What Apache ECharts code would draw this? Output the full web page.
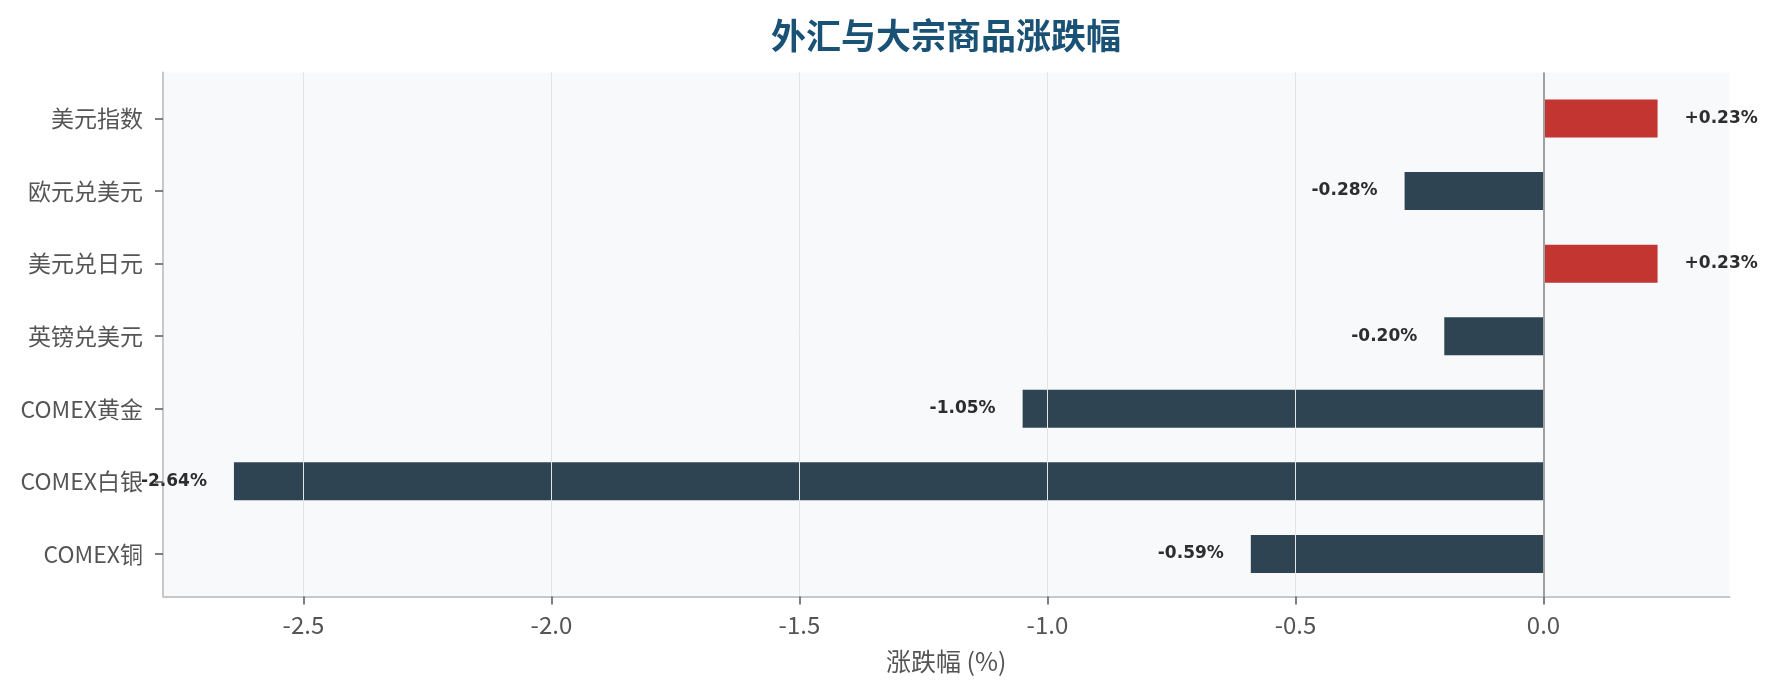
<!DOCTYPE html>
<html>
<head>
<meta charset="utf-8">
<script src="https://cdn.jsdelivr.net/npm/echarts@6/dist/echarts.min.js"></script>
<style>
html,body{margin:0;padding:0;background:#fff;}
#chart{width:1776px;height:694px;}
</style>
</head>
<body>
<div id="chart"></div>
<script>
const categories = ['美元指数', '欧元兑美元', '美元兑日元', '英镑兑美元', 'COMEX黄金', 'COMEX白银', 'COMEX铜'];
const changes = [0.23, -0.28, 0.23, -0.20, -1.05, -2.64, -0.59];
const xTicks = [-2.5, -2.0, -1.5, -1.0, -0.5, 0.0];
const title = '外汇与大宗商品涨跌幅';
const xName = '涨跌幅 (%)';

const UP = '#c23531', DOWN = '#2e4453';
const xMin = -2.783, xMax = 0.375;
const cjk = "'Noto Sans CJK SC', 'Noto Sans', sans-serif";

const chart = echarts.init(document.getElementById('chart'), null, {renderer: 'canvas'});

const barData = changes.map(v => ({
  value: v,
  itemStyle: {color: v >= 0 ? UP : DOWN},
  label: {position: v >= 0 ? 'right' : 'left'}
}));

chart.setOption({
  backgroundColor: '#ffffff',
  animation: false,
  title: {
    text: title,
    left: 941, textAlign: 'center', top: 13,
    textStyle: {fontFamily: cjk, fontSize: 35, fontWeight: 'bold', color: '#1a5276'}
  },
  grid: [
    {left: 163, right: 46.5, top: 72.5, bottom: 97.5, show: true, backgroundColor: '#f8f9fb', borderWidth: 0, containLabel: false},
    {left: 163, right: 46.5, top: 82.2, bottom: 103.8, containLabel: false}
  ],
  xAxis: [
    {
      gridIndex: 0, type: 'value', min: xMin, max: xMax, z: 3,
      name: xName, nameLocation: 'middle', nameGap: 52,
      nameTextStyle: {fontFamily: cjk, fontSize: 25, color: '#555'},
      axisLine: {show: true, onZero: false, lineStyle: {color: '#c8c8c8', width: 2}},
      axisTick: {show: true, length: 8, lineStyle: {color: '#555', width: 1.5},
        customValues: xTicks},
      axisLabel: {fontFamily: cjk, fontSize: 24, color: '#555', margin: 16,
        customValues: xTicks, formatter: v => v.toFixed(1)},
      splitLine: {show: true, lineStyle: {color: '#e2e4e8', width: 1}},
      interval: 0.5
    },
    {gridIndex: 1, type: 'value', min: xMin, max: xMax, show: false}
  ],
  yAxis: [
    {gridIndex: 0, type: 'value', min: 0, max: 1,
      axisLine: {show: true, onZero: false, lineStyle: {color: '#c8c8c8', width: 2}},
      axisTick: {show: false}, axisLabel: {show: false}, splitLine: {show: false}},
    {gridIndex: 1, type: 'category', data: categories, inverse: true, position: 'left',
      axisLine: {show: false, onZero: false},
      axisTick: {show: true, alignWithLabel: true, length: 8, lineStyle: {color: '#555', width: 1.5}},
      axisLabel: {fontFamily: cjk, fontSize: 23, color: '#555', margin: 20}}
  ],
  series: [
    {
      type: 'bar', xAxisIndex: 1, yAxisIndex: 1, z: 2,
      data: barData, barWidth: 38,
      label: {show: true, distance: 27, fontFamily: "'DejaVu Sans', sans-serif", fontSize: 17,
        fontWeight: 'bold', color: '#2d2d2d',
        formatter: p => (p.value > 0 ? '+' : '') + p.value.toFixed(2) + '%'}
    },
    {
      type: 'line', xAxisIndex: 0, yAxisIndex: 0, z: 5, data: [],
      markLine: {silent: true, symbol: 'none', label: {show: false},
        lineStyle: {color: '#a0a0a0', width: 2, type: 'solid'},
        data: [{xAxis: 0}]}
    }
  ]
});
</script>
</body>
</html>
